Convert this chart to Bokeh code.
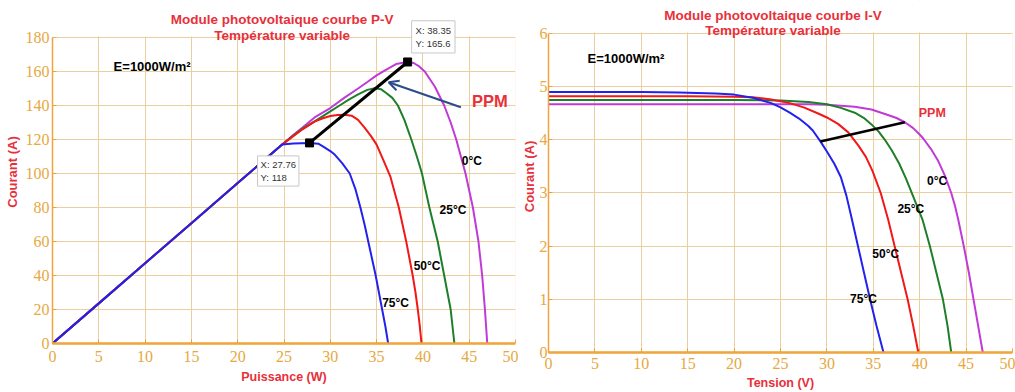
from bokeh.plotting import figure
from bokeh.layouts import row
from bokeh.models import Label, Arrow, OpenHead, Range1d, FixedTicker, BoxAnnotation
from bokeh.embed import file_html
from bokeh.resources import INLINE

# ---------------- data ----------------
temps = ["0°C", "25°C", "50°C", "75°C"]

# P-V curves (left panel)
pv_v_0 = [0, 5, 10, 15, 20, 24.8, 26, 27, 28.3, 30, 31.5, 33, 34, 35, 36, 37.1, 38.35, 39.0, 39.6, 40.2, 41.3,
          42.3, 43.0, 43.6, 44.1, 44.6, 45.0, 45.4, 45.7, 46.0, 46.4, 46.7, 46.95]
pv_p_0 = [0, 23.6, 47.2, 70.8, 94.4, 117, 122.6, 127, 133, 138.5, 144.5, 150, 153.8, 157.7, 161, 164.4, 165.6, 165,
          163, 160, 151, 140, 130, 120, 110, 100, 90, 80, 70, 60, 40, 20, 0]

pv_v_25 = [0, 5, 10, 15, 20, 24.8, 26, 27, 28.3, 29.2, 30, 31, 32, 33, 34, 34.8, 35.5, 36, 36.7, 37.3, 38.0, 38.75,
           39.35, 39.9, 40.3, 40.7, 41.15, 41.6, 41.95, 42.3, 42.65, 43.0, 43.2, 43.4]
pv_p_25 = [0, 23.6, 47.2, 70.8, 94.4, 117, 122.3, 126.4, 130.7, 133.8, 136.5, 140, 143.5, 146.5, 149.2, 150.2, 149.5,
           147.5, 144.5, 140, 131.5, 120, 110, 100, 90, 80, 70, 60, 50, 40, 30, 20, 10, 0]

pv_v_50 = [0, 5, 10, 15, 20, 24.8, 26, 27, 28.3, 29.2, 30, 30.8, 31.5, 32.3, 33, 33.7, 34.4, 35, 35.8, 36.5, 37.0,
           37.4, 37.8, 38.2, 38.55, 38.9, 39.2, 39.45, 39.65, 39.85]
pv_p_50 = [0, 23.6, 47.2, 70.8, 94.4, 117, 122, 126, 130.5, 132.5, 133.8, 134.4, 134.6, 134, 131.5, 127, 122, 117,
           107, 98, 88, 80, 70, 60, 50, 40, 30, 20, 11, 0]

pv_v_75 = [0, 5, 10, 15, 20, 24.8, 26, 27.76, 28.7, 29.2, 30, 30.5, 31.3, 32.1, 32.7, 33.25, 33.7, 34.1, 34.5, 34.9,
           35.25, 35.6, 35.95, 36.25]
pv_p_75 = [0, 23.6, 47.2, 70.8, 94.4, 117, 117.6, 118, 117.5, 116, 113.2, 111, 106, 100, 91, 80, 70, 60, 50, 40,
           30, 20, 10, 0]

ppm_pv_v = [27.76, 38.35]
ppm_pv_p = [118, 165.6]

# I-V curves (right panel)
iv_v_0 = [0, 5, 10, 15, 20, 25, 28, 30, 33, 34.8, 36.5, 37.5, 38.4, 39.3, 40.0, 40.4, 41.2, 42.0, 42.7, 43.4, 43.8,
          44.15, 44.75, 45.3, 45.8, 46.3, 46.8]
iv_i_0 = [4.67, 4.67, 4.67, 4.67, 4.67, 4.67, 4.67, 4.66, 4.62, 4.57, 4.47, 4.41, 4.33, 4.22, 4.1, 4.02, 3.83, 3.6,
          3.33, 3.0, 2.76, 2.5, 2.0, 1.5, 1.0, 0.5, 0]

iv_v_25 = [0, 5, 10, 15, 20, 25, 28, 30, 31.5, 33, 34, 34.8, 35.6, 36.25, 37.0, 37.8, 38.5, 39.1, 39.7, 40.3, 41.1,
           41.8, 42.5, 43.0, 43.4]
iv_i_25 = [4.75, 4.75, 4.75, 4.75, 4.75, 4.74, 4.71, 4.67, 4.6, 4.51, 4.41, 4.29, 4.15, 4.0, 3.8, 3.55, 3.28, 3.02,
           2.76, 2.5, 2.0, 1.5, 1.0, 0.5, 0]

iv_v_50 = [0, 5, 10, 15, 20, 22, 24, 26, 27.5, 29, 30, 31.2, 32.3, 33.4, 34.2, 34.9, 35.8, 36.6, 37.3, 38.0, 38.7,
           39.3, 39.85]
iv_i_50 = [4.82, 4.82, 4.82, 4.82, 4.81, 4.8, 4.76, 4.69, 4.61, 4.5, 4.42, 4.3, 4.14, 3.89, 3.68, 3.42, 3.0, 2.5,
           2.0, 1.5, 1.0, 0.5, 0]

iv_v_75 = [0, 5, 10, 14, 18, 20, 22, 24, 25, 26, 27, 27.5, 28, 28.5, 29.3, 30, 30.8, 31.5, 32.1, 32.7, 33.35, 34.0,
           34.65, 35.35, 36.1]
iv_i_75 = [4.9, 4.9, 4.9, 4.89, 4.87, 4.85, 4.79, 4.69, 4.61, 4.51, 4.4, 4.33, 4.26, 4.17, 3.97, 3.78, 3.55, 3.3,
           2.95, 2.5, 2.0, 1.5, 1.0, 0.5, 0]

ppm_iv_v = [29.3, 38.4]
ppm_iv_i = [3.97, 4.33]

x_ticks = [0, 5, 10, 15, 20, 25, 30, 35, 40, 45, 50]
pv_y_ticks = [0, 20, 40, 60, 80, 100, 120, 140, 160, 180]
iv_y_ticks = [0, 1, 2, 3, 4, 5, 6]

# ---------------- style ----------------
COLORS = {"0°C": "#C03AD8", "25°C": "#1E7F2A", "50°C": "#F01818", "75°C": "#2222EE"}
TICK_FONT = "Liberation Sans Narrow"
TXT_FONT = "Liberation Sans"
TICK_COLOR = "#E6A93F"
GRID_COLOR = "#EBCF9F"
AXIS_COLOR = "#EFA030"
RED = "#E8303A"


def style(p, xt, yt, xlabel, ylabel, ymax):
    p.xgrid.ticker = FixedTicker(ticks=xt)
    p.ygrid.ticker = FixedTicker(ticks=yt)
    p.grid.grid_line_color = GRID_COLOR
    p.grid.grid_line_width = 1
    p.outline_line_color = None
    p.background_fill_color = "white"
    p.border_fill_color = "white"
    for ax, t, lab in ((p.xaxis[0], xt, xlabel), (p.yaxis[0], yt, ylabel)):
        ax.ticker = FixedTicker(ticks=t)
        ax.axis_label = lab
        ax.axis_label_text_font = TXT_FONT
        ax.axis_label_text_font_style = "bold"
        ax.axis_label_text_color = RED
        ax.major_label_text_font = TICK_FONT
        ax.major_label_text_font_size = "16px"
        ax.major_label_text_color = TICK_COLOR
        ax.axis_line_color = AXIS_COLOR
        ax.major_tick_line_color = AXIS_COLOR
        ax.major_tick_in = 4
        ax.major_tick_out = 0
        ax.minor_tick_line_color = None
    p.xaxis[0].axis_label_text_font_size = "12.5px"
    p.yaxis[0].axis_label_text_font_size = "13px"
    p.xaxis[0].axis_line_width = 2.5
    p.yaxis[0].axis_line_width = 1.5
    p.yaxis[0].bounds = (0, ymax)
    # hide grid above the top of the axes box, then draw the box outline
    p.add_layout(BoxAnnotation(bottom=ymax * 1.003, fill_color="white", fill_alpha=1.0,
                               line_alpha=0))
    p.add_layout(BoxAnnotation(left=0, right=50, bottom=0, top=ymax, fill_alpha=0,
                               line_color=GRID_COLOR, line_width=1))


def txt(p, x, y, text, size="12px", color="black", align="left", baseline="middle", style_="bold"):
    p.add_layout(Label(x=x, y=y, text=text, text_font=TXT_FONT, text_font_size=size,
                       text_font_style=style_, text_color=color, text_align=align,
                       text_baseline=baseline))


# ---------------- left panel : P-V ----------------
p1 = figure(frame_width=463, frame_height=343, output_backend="svg", toolbar_location=None,
            x_range=Range1d(0, 50), y_range=Range1d(0, 201.76),
            min_border_left=52, min_border_right=3, min_border_top=0, min_border_bottom=47)
style(p1, x_ticks, pv_y_ticks, "Puissance (W)", "Courant (A)", 180)
p1.xaxis[0].major_label_standoff = 7
p1.xaxis[0].axis_label_standoff = 5
p1.yaxis[0].major_label_standoff = 3
p1.yaxis[0].axis_label_standoff = 3

pv_series = [("0°C", pv_v_0, pv_p_0), ("25°C", pv_v_25, pv_p_25),
             ("50°C", pv_v_50, pv_p_50), ("75°C", pv_v_75, pv_p_75)]
for name, v, pw in pv_series:
    p1.line(v, pw, line_color=COLORS[name], line_width=2)

p1.line(ppm_pv_v, ppm_pv_p, line_color="black", line_width=3)
p1.scatter(ppm_pv_v, ppm_pv_p, marker="square", size=8, color="black")

p1.add_layout(Label(x=ppm_pv_v[1], y=ppm_pv_p[1], x_offset=4, y_offset=9,
                    text=f"X: {ppm_pv_v[1]}\nY: {ppm_pv_p[1]}", text_font=TXT_FONT,
                    text_font_size="9.5px", text_color="#333333", text_align="left",
                    text_baseline="bottom", background_fill_color="white",
                    border_line_color="#C8C8C8", padding=4))
p1.add_layout(Label(x=ppm_pv_v[0], y=ppm_pv_p[0], x_offset=-52, y_offset=-13,
                    text=f"X: {ppm_pv_v[0]}\nY: {ppm_pv_p[0]:g}", text_font=TXT_FONT,
                    text_font_size="9.5px", text_color="#333333", text_align="left",
                    text_baseline="top", background_fill_color="white",
                    border_line_color="#C8C8C8", padding=3))

p1.add_layout(Arrow(end=OpenHead(size=10, line_color="#2B4C8C", line_width=2),
                    x_start=44.1, y_start=139, x_end=36.3, y_end=153.7,
                    line_color="#2B4C8C", line_width=2))
txt(p1, 45.3, 142.6, "PPM", size="16.5px", color=RED)
txt(p1, 6.6, 163, "E=1000W/m²", size="13px")
txt(p1, 44.2, 107.6, "0°C")
txt(p1, 41.8, 78.8, "25°C")
txt(p1, 39.0, 45.3, "50°C")
txt(p1, 35.6, 24, "75°C")
txt(p1, 24.8, 190.6, "Module photovoltaique courbe P-V", size="13.5px", color=RED, align="center")
txt(p1, 24.8, 181.2, "Température variable", size="13.5px", color=RED, align="center")

# ---------------- right panel : I-V ----------------
p2 = figure(frame_width=464, frame_height=352, output_backend="svg", toolbar_location=None,
            x_range=Range1d(0, 50), y_range=Range1d(0, 6.62),
            min_border_left=30, min_border_right=3, min_border_top=0, min_border_bottom=38)
style(p2, x_ticks, iv_y_ticks, "Tension (V)", "Courant (A)", 6)
p2.xaxis[0].major_label_standoff = 5
p2.xaxis[0].axis_label_standoff = 4
p2.yaxis[0].major_label_standoff = 1
p2.yaxis[0].axis_label_standoff = 0

iv_series = [("0°C", iv_v_0, iv_i_0), ("25°C", iv_v_25, iv_i_25),
             ("50°C", iv_v_50, iv_i_50), ("75°C", iv_v_75, iv_i_75)]
for name, v, i in iv_series:
    p2.line(v, i, line_color=COLORS[name], line_width=2)

p2.line(ppm_iv_v, ppm_iv_i, line_color="black", line_width=2.5)

txt(p2, 39.9, 4.51, "PPM", size="12.5px", color=RED)
txt(p2, 4.2, 5.52, "E=1000W/m²", size="13px")
txt(p2, 40.8, 3.22, "0°C")
txt(p2, 37.6, 2.70, "25°C")
txt(p2, 34.9, 1.85, "50°C")
txt(p2, 32.5, 1.0, "75°C")
txt(p2, 24.2, 6.34, "Module photovoltaique courbe I-V", size="13.5px", color=RED, align="center")
txt(p2, 24.2, 6.06, "Température variable", size="13.5px", color=RED, align="center")

layout = row(p1, p2)
open("out.html", "w").write(file_html(layout, INLINE))
